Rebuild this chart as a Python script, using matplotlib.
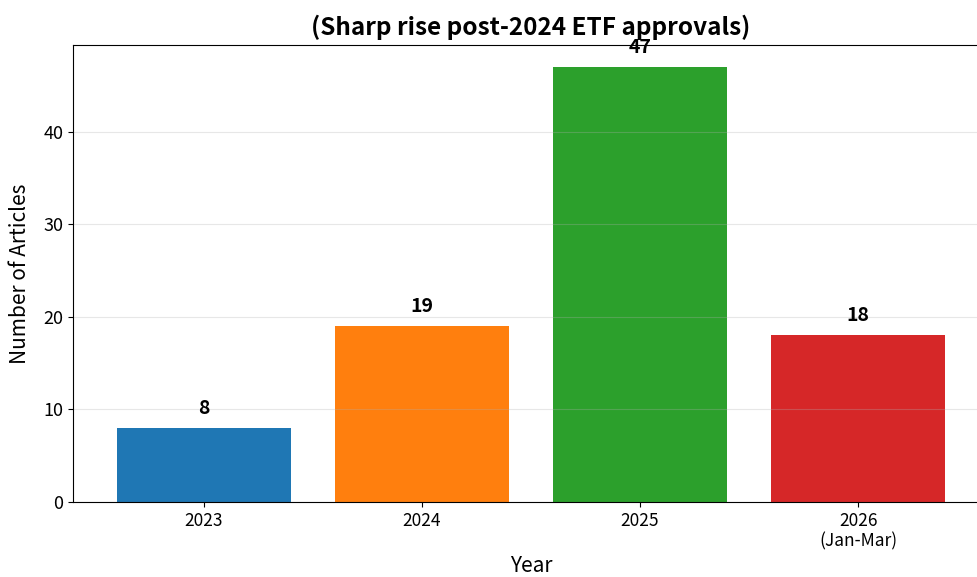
import matplotlib
matplotlib.use('Agg')
import matplotlib.pyplot as plt

plt.rcParams['font.family'] = ['Noto Sans CJK JP', 'DejaVu Sans']

# data
years = ['2023', '2024', '2025', '2026\n(Jan-Mar)']
counts = [8, 19, 47, 18]
colors = ['#1f77b4', '#ff7f0e', '#2ca02c', '#d62728']

fig = plt.figure(figsize=(9.77, 5.77), dpi=100)
ax = fig.add_axes([0.0747, 0.13, 0.9376, 0.792])

x = range(len(years))
bars = ax.bar(x, counts, width=0.8, color=colors)
for b, v in zip(bars, counts):
    ax.text(b.get_x() + b.get_width() / 2, v + 1.1, str(v),
            ha='center', va='bottom', fontsize=14, fontweight='bold')

ax.set_xticks(list(x))
ax.set_xticklabels(years, fontsize=12.5)
ax.tick_params(axis='y', labelsize=13)
ax.set_xlim(-0.6, 3.6)
ax.set_ylim(0, 49.35)
ax.set_xlabel('Year', fontsize=15, labelpad=3)
ax.set_ylabel('Number of Articles', fontsize=15, labelpad=9)
ax.set_title('(Sharp rise post-2024 ETF approvals)', fontsize=17.5,
             fontweight='bold', pad=7)
ax.grid(axis='y', alpha=0.3)

fig.savefig('out.png', dpi=100)
